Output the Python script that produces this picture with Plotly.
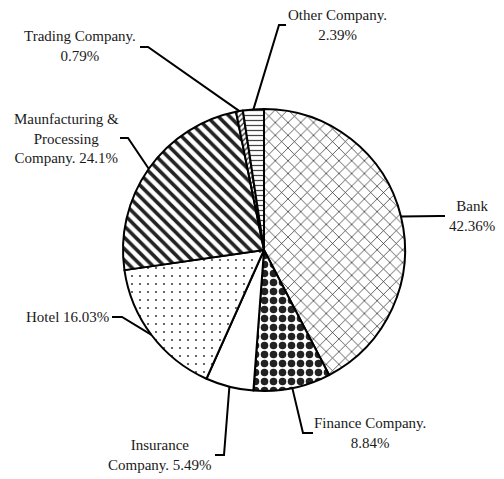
import math
import plotly.graph_objects as go

# ---- data ----
categories = ["Bank", "Finance Company.", "Insurance Company.", "Hotel",
              "Maunfacturing & Processing Company.", "Trading Company.", "Other Company."]
values = [42.36, 8.84, 5.49, 16.03, 24.1, 0.79, 2.39]
label_texts = ["Bank<br>42.36%", "Finance Company.<br>8.84%", "Insurance<br>Company. 5.49%",
               "Hotel 16.03%", "Maunfacturing &<br>Processing<br>Company. 24.1%",
               "Trading Company.<br>0.79%", "Other Company.<br>2.39%"]

# ---- layout / style ----
OFF = 8                      # default page body margin
W, H = 504 - OFF, 479 - OFF
CX, CY, R = 264, 250, 141    # in screen pixels
FONT = dict(family="Liberation Serif, Times New Roman, serif", size=15, color="#1a1a1a")

shapes_pat = ["x", ".", "", ".", "\\", "/", "-"]
fg = ["#222222", "#222222", "#ffffff", "#444444", "#222222", "#222222", "#444444"]
sizes = [9, 9, 8, 8, 8, 4, 5]
solid = [0.15, 0.55, 0.1, 0.06, 0.45, 0.3, 0.25]

# leader style per label: knee (px), end (px), text position (px), anchor
leader_style = [
    dict(knee=(440, 216), end=(445, 216), txt=(472, 216), xa="center"),
    dict(knee=(303, 433), end=(313, 433), txt=(370, 433), xa="center"),
    dict(knee=(224, 455), end=(215, 455), txt=(160, 455), xa="center"),
    dict(knee=(122, 317), end=(112, 317), txt=(111, 317), xa="right"),
    dict(knee=(128, 138), end=(120, 138), txt=(66, 139), xa="center"),
    dict(knee=(148, 47), end=(140, 47), txt=(80, 46), xa="center"),
    dict(knee=(279, 25), end=(286, 25), txt=(337, 25), xa="center"),
]

def px2paper(x, y):
    return (x - OFF) / W, 1 - (y - OFF) / H

fig = go.Figure()
x0, y1 = px2paper(CX - R, CY - R)
x1, y0 = px2paper(CX + R, CY + R)
fig.add_trace(go.Pie(
    labels=categories, values=values, sort=False, direction="clockwise", rotation=0,
    textinfo="none", hoverinfo="label+percent", showlegend=False,
    domain=dict(x=[x0, x1], y=[y0, y1]),
    marker=dict(colors=["white"] * 7, line=dict(color="black", width=2),
                pattern=dict(shape=shapes_pat, fgcolor=fg, fgopacity=1, bgcolor=["white"] * 7,
                             size=sizes, solidity=solid, fillmode="overlay")),
))

total = sum(values)
cum = 0.0
annotations = []
shapes = []
for v, txt, st in zip(values, label_texts, leader_style):
    mid = (cum + v / 2) / total * 2 * math.pi
    cum += v
    ex = CX + R * math.sin(mid)
    ey = CY - R * math.cos(mid)
    pts = [(ex, ey), st["knee"], st["end"]]
    path = "M " + " L ".join(f"{px2paper(x, y)[0]:.5f},{px2paper(x, y)[1]:.5f}" for x, y in pts)
    shapes.append(dict(type="path", path=path, xref="paper", yref="paper",
                       line=dict(color="black", width=2)))
    tx, ty = px2paper(*st["txt"])
    annotations.append(dict(text=txt, x=tx, y=ty, xref="paper", yref="paper",
                            xanchor=st["xa"], yanchor="middle", showarrow=False,
                            align="center", font=FONT))

fig.update_layout(width=W, height=H, margin=dict(l=0, r=0, t=0, b=0),
                  paper_bgcolor="white", plot_bgcolor="white",
                  shapes=shapes, annotations=annotations)
fig.write_html("out.html")
